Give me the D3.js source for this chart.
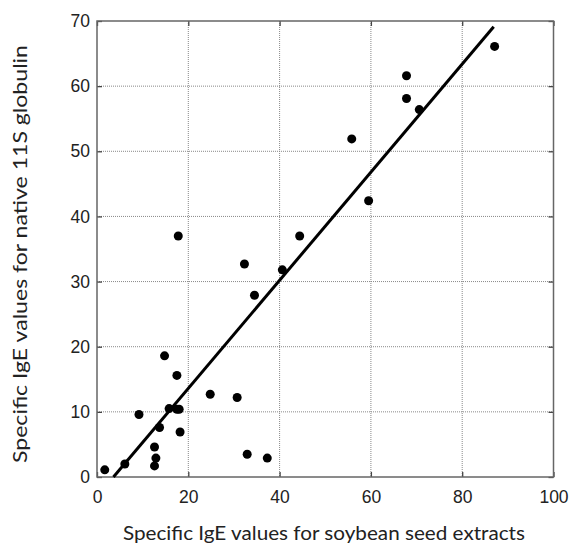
<!DOCTYPE html>
<html>
<head>
<meta charset="utf-8">
<script src="https://cdn.jsdelivr.net/npm/d3@7"></script>
<style>
  body { margin: 0; background: #fff; }
</style>
</head>
<body>
<script>
// soybean seed extract IgE (x) vs native 11S globulin IgE (y)
var soyIgE = [1.7, 6.1, 9.2, 12.6, 12.9, 12.6, 13.7, 14.8, 15.8, 17.5, 17.5, 18.0, 18.2, 17.8,
              24.8, 30.7, 32.3, 32.9, 34.5, 37.3, 40.6, 44.4, 55.8, 59.5, 67.8, 67.8, 70.6, 87.1];
var globulinIgE = [1.1, 2.0, 9.6, 4.6, 2.9, 1.7, 7.6, 18.6, 10.5, 15.6, 10.4, 10.4, 6.9, 37.0,
                   12.7, 12.2, 32.7, 3.5, 27.9, 2.9, 31.8, 37.0, 51.9, 42.4, 61.6, 58.1, 56.4, 66.1];
// fitted regression line y = slope * x + intercept
var fitSlope = 0.83, fitIntercept = -3.0;
var fitRange = [3.6, 86.9];
var xTicks = [0, 20, 40, 60, 80, 100];
var yTicks = [0, 10, 20, 30, 40, 50, 60, 70];

var W = 574, H = 545;
var left = 97, right = 553.5, top_ = 21, bottom = 477;

var svg = d3.select('body').append('svg')
	.attr('width', W).attr('height', H);

var x = d3.scaleLinear().domain([0, 100]).range([left, right]);
var y = d3.scaleLinear().domain([0, 70]).range([bottom, top_]);

// gridlines (dotted)
var grid = svg.append('g').attr('id', 'grid');
grid.selectAll('.vg').data(xTicks.slice(1, -1)).enter().append('line')
	.attr('x1', d => x(d)).attr('x2', d => x(d)).attr('y1', top_).attr('y2', bottom)
	.attr('stroke', '#888').attr('stroke-width', 1).attr('stroke-dasharray', '1,1');
grid.selectAll('.hg').data(yTicks.slice(1, -1)).enter().append('line')
	.attr('y1', d => y(d)).attr('y2', d => y(d)).attr('x1', left).attr('x2', right)
	.attr('stroke', '#888').attr('stroke-width', 1).attr('stroke-dasharray', '1,1');

// axes with inside ticks, labels in Arial-like font
var xAxis = d3.axisBottom(x).tickValues(xTicks).tickSize(-5).tickPadding(14);
var yAxis = d3.axisLeft(y).tickValues(yTicks).tickSize(-5).tickPadding(7);
var xAx = svg.append('g').attr('transform', 'translate(0,' + bottom + ')').call(xAxis);
var yAx = svg.append('g').attr('transform', 'translate(' + left + ',0)').call(yAxis);
// mirror ticks on top and right
var xTop = svg.append('g').attr('transform', 'translate(0,' + top_ + ')')
	.call(d3.axisTop(x).tickValues(xTicks).tickSize(-5).tickFormat(''));
var yRight = svg.append('g').attr('transform', 'translate(' + right + ',0)')
	.call(d3.axisRight(y).tickValues(yTicks).tickSize(-5).tickFormat(''));

[xAx, yAx, xTop, yRight].forEach(function(g){
	g.select('.domain').remove();
	g.selectAll('line').attr('stroke', '#444').attr('stroke-width', 1.3);
	g.selectAll('text').attr('fill', '#222')
		.style('font-family', '"Liberation Sans", Arial, sans-serif').style('font-size', '17.5px');
});

// frame
svg.append('rect')
	.attr('x', left).attr('y', top_).attr('width', right - left).attr('height', bottom - top_)
	.attr('fill', 'none').attr('stroke', '#666').attr('stroke-width', 1.5);

// regression line
svg.append('line')
	.attr('x1', x(fitRange[0])).attr('y1', y(fitSlope * fitRange[0] + fitIntercept))
	.attr('x2', x(fitRange[1])).attr('y2', y(fitSlope * fitRange[1] + fitIntercept))
	.attr('stroke', '#000').attr('stroke-width', 3);

// points
svg.append('g').selectAll('circle')
	.data(soyIgE.map((d, i) => [d, globulinIgE[i]]))
	.enter().append('circle')
	.attr('cx', d => x(d[0])).attr('cy', d => y(d[1]))
	.attr('r', 4.5).attr('fill', '#000');

// axis titles
svg.append('text').text('Specific IgE values for soybean seed extracts')
	.attr('x', 324).attr('y', 540).attr('text-anchor', 'middle')
	.attr('textLength', 402).attr('lengthAdjust', 'spacingAndGlyphs')
	.style('font-family', 'Lato, "Open Sans", sans-serif').style('font-size', '18.5px').attr('fill', '#222');

svg.append('text').text('Specific IgE values for native 11S globulin')
	.attr('transform', 'translate(27,254) rotate(-90)').attr('text-anchor', 'middle')
	.attr('textLength', 418).attr('lengthAdjust', 'spacingAndGlyphs')
	.style('font-family', 'Lato, "Open Sans", sans-serif').style('font-size', '18.5px').attr('fill', '#222');
</script>
</body>
</html>
